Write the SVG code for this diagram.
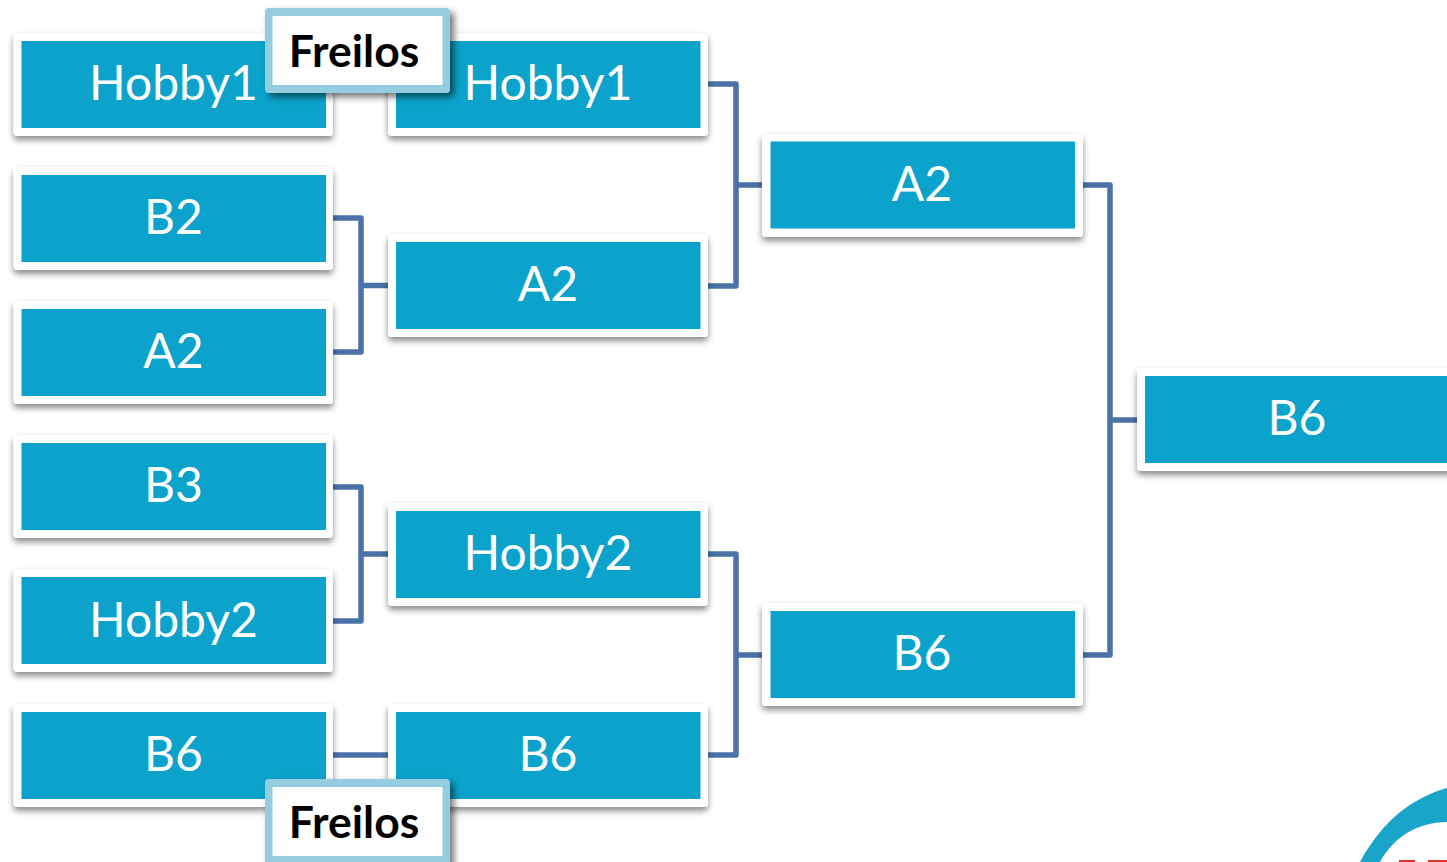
<svg xmlns="http://www.w3.org/2000/svg" width="1447" height="862" viewBox="0 0 1447 862">
<style>
.o{fill:#fff;filter:url(#s)}
.i{fill:#0ba3cb}
.t{font-family:"Lato","Open Sans",sans-serif;font-weight:400;font-size:48px;fill:#fff;text-anchor:middle}
.c{fill:none;stroke:#4a72a8;stroke-width:5.500;stroke-linejoin:round}
.fo{fill:#94cddf;filter:url(#s2)}
.fl{font-family:"Lato","Open Sans",sans-serif;font-weight:700;font-size:44.500px;fill:#000;text-anchor:middle}
</style>
<defs>
<filter id="s" x="-10%" y="-20%" width="120%" height="140%"><feDropShadow dx="0" dy="4" stdDeviation="3" flood-color="#000" flood-opacity=".45"/></filter>
<filter id="s2" x="-10%" y="-20%" width="120%" height="140%"><feDropShadow dx="4" dy="4" stdDeviation="3.500" flood-color="#000" flood-opacity=".55"/></filter>
</defs>
<rect width="1447" height="862" fill="#fff"/>
<g id="connectors">
<path class="c" d="M333 218H361V352H333M361 285.500H389"/>
<path class="c" d="M333 487H361V621H333M361 554H389"/>
<path class="c" d="M333 755H389"/>
<path class="c" d="M708 84H736V286H708M736 185H763"/>
<path class="c" d="M708 554H736V755H708M736 655H763"/>
<path class="c" d="M1083 185H1110V655H1083M1110 420H1138"/>
</g>
<g id="n1"><rect class="o" x="13.500" y="33" width="319.500" height="103" rx="4"/><rect class="i" x="21.500" y="41" width="304.500" height="87"/><text class="t" x="173.500" y="100">Hobby1</text></g>
<g id="n2"><rect class="o" x="13.500" y="167" width="319.500" height="103" rx="4"/><rect class="i" x="21.500" y="175" width="304.500" height="87"/><text class="t" x="173.500" y="234">B2</text></g>
<g id="n3"><rect class="o" x="13.500" y="301" width="319.500" height="103" rx="4"/><rect class="i" x="21.500" y="309" width="304.500" height="87"/><text class="t" x="173.500" y="368">A2</text></g>
<g id="n4"><rect class="o" x="13.500" y="435" width="319.500" height="103" rx="4"/><rect class="i" x="21.500" y="443" width="304.500" height="87"/><text class="t" x="173.500" y="502">B3</text></g>
<g id="n5"><rect class="o" x="13.500" y="569" width="319.500" height="103" rx="4"/><rect class="i" x="21.500" y="577" width="304.500" height="87"/><text class="t" x="173.500" y="637">Hobby2</text></g>
<g id="n6"><rect class="o" x="13.500" y="704" width="319.500" height="103" rx="4"/><rect class="i" x="21.500" y="712" width="304.500" height="87"/><text class="t" x="173.500" y="771">B6</text></g>
<g id="n7"><rect class="o" x="388" y="33" width="320" height="103" rx="4"/><rect class="i" x="396" y="41" width="304.500" height="87"/><text class="t" x="548" y="100">Hobby1</text></g>
<g id="n8"><rect class="o" x="388" y="234" width="320" height="103" rx="4"/><rect class="i" x="396" y="242" width="304.500" height="87"/><text class="t" x="548" y="301">A2</text></g>
<g id="n9"><rect class="o" x="388" y="503" width="320" height="103" rx="4"/><rect class="i" x="396" y="511" width="304.500" height="87"/><text class="t" x="548" y="570">Hobby2</text></g>
<g id="n10"><rect class="o" x="388" y="704" width="320" height="103" rx="4"/><rect class="i" x="396" y="712" width="304.500" height="87"/><text class="t" x="548" y="771">B6</text></g>
<g id="n11"><rect class="o" x="762" y="134" width="321" height="103" rx="4"/><rect class="i" x="770.500" y="141.500" width="304.500" height="87"/><text class="t" x="922" y="201">A2</text></g>
<g id="n12"><rect class="o" x="762" y="603" width="321" height="103" rx="4"/><rect class="i" x="770.500" y="611" width="304.500" height="87"/><text class="t" x="922" y="670">B6</text></g>
<g id="n13"><rect class="o" x="1137" y="368" width="330" height="103" rx="4"/><rect class="i" x="1145" y="376" width="310" height="87"/><text class="t" x="1297" y="435">B6</text></g>
<g id="f1"><rect class="fo" x="265" y="8" width="185" height="85" rx="4"/><rect x="272.500" y="16" width="170" height="69" fill="#fff"/><text class="fl" x="354" y="67">Freilos</text></g>
<g id="f2"><rect class="fo" x="265" y="779" width="185" height="90" rx="4"/><rect x="272.500" y="787" width="170" height="69" fill="#fff"/><text class="fl" x="354" y="838">Freilos</text></g>
<path id="logo" d="M1360 862C1383 820 1412 798 1447 788V822C1417 822 1393 838 1380 862Z" fill="#19a5ca"/>
<path d="M1399 860H1415V862H1399ZM1428 860H1447V862H1428Z" fill="#d9352b"/>
</svg>
